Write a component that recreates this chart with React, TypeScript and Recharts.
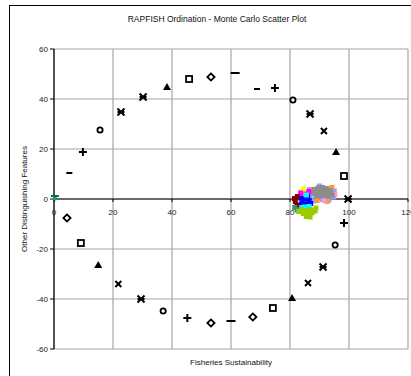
import React from "react";
import {
  CartesianGrid,
  ReferenceDot,
  ReferenceLine,
  Scatter,
  ScatterChart,
  XAxis,
  YAxis,
} from "recharts";

// anchor points (reference fisheries) by marker type
const circles = [
  { x: 15.6, y: 27.6 },
  { x: 81, y: 39.6 },
  { x: 95.3, y: -18.4 },
  { x: 37, y: -44.8 },
];
const diamonds = [
  { x: 53.2, y: 48.8 },
  { x: 4.4, y: -7.6 },
  { x: 67.4, y: -47.2 },
  { x: 53.2, y: -49.6 },
];
const squares = [
  { x: 45.8, y: 48 },
  { x: 98.3, y: 9.2 },
  { x: 74.2, y: -43.6 },
  { x: 9.1, y: -17.6 },
];
const triangles = [
  { x: 38.3, y: 44.8 },
  { x: 95.6, y: 18.8 },
  { x: 80.7, y: -39.6 },
  { x: 15, y: -26.4 },
];
const stars = [
  { x: 22.7, y: 34.8 },
  { x: 30.2, y: 40.8 },
  { x: 86.8, y: 34 },
  { x: 99.7, y: 0 },
  { x: 91.2, y: -27.2 },
  { x: 29.5, y: -40 },
];
const crosses = [
  { x: 91.5, y: 27.2 },
  { x: 86.1, y: -33.6 },
  { x: 21.8, y: -34 },
];
const pluses = [
  { x: 9.8, y: 18.8 },
  { x: 74.9, y: 44.4 },
  { x: 98.3, y: -9.6 },
  { x: 45.2, y: -47.6 },
];
const longDashes = [
  { x: 61.4, y: 50.4 },
  { x: 60, y: -48.8 },
];
const shortDashes = [
  { x: 68.8, y: 44 },
  { x: 5.2, y: 10.4 },
];
const badAnchor = [{ x: 0.3, y: 0.8 }];

// monte carlo cloud, one array per colour
const mcGrey = [
  { x: 88.2, y: 3.8 }, { x: 89.5, y: 4.4 }, { x: 91, y: 4.6 }, { x: 92.4, y: 4.2 },
  { x: 93.6, y: 3.4 }, { x: 88, y: 2.4 }, { x: 89.4, y: 2.8 }, { x: 90.9, y: 2.8 },
  { x: 92.3, y: 2.6 }, { x: 93.8, y: 2.2 }, { x: 88.8, y: 1.2 }, { x: 90.2, y: 1.4 },
  { x: 91.6, y: 1.3 }, { x: 93, y: 1.1 }, { x: 94.3, y: 1.6 },
];
const mcLavender = [
  { x: 87, y: 1.6 }, { x: 94.8, y: 0.8 }, { x: 93.2, y: -0.4 }, { x: 88.2, y: -0.8 },
  { x: 95, y: 3.2 }, { x: 90, y: 5.2 }, { x: 86.6, y: 3.8 }, { x: 91, y: -0.2 },
];
const mcOrange = [
  { x: 89.2, y: -0.6 }, { x: 92.6, y: -1 }, { x: 87.6, y: 3.4 }, { x: 94.2, y: 4.6 },
];
const mcPink = [
  { x: 91.6, y: -0.6 }, { x: 86.2, y: 2.4 }, { x: 95.2, y: 1.8 },
];
const mcBlue = [
  { x: 83.6, y: 0.4 }, { x: 85, y: 0 }, { x: 86.5, y: -0.5 }, { x: 84, y: -1.5 },
  { x: 85.5, y: -2 }, { x: 87, y: -1.8 }, { x: 83.2, y: -2.4 }, { x: 86, y: 1 },
];
const mcDarkRed = [
  { x: 81.8, y: -1 }, { x: 82.3, y: -2.5 }, { x: 81.5, y: 0.2 }, { x: 82.5, y: 1 },
];
const mcCyan = [
  { x: 83.6, y: -3.4 }, { x: 85, y: -3.2 }, { x: 84.2, y: -4 }, { x: 86.5, y: -3 },
  { x: 85.6, y: 1.6 },
];
const mcGreen = [
  { x: 84, y: -4.2 }, { x: 85.5, y: -4.6 }, { x: 87, y: -4.3 }, { x: 88.5, y: -4.8 },
  { x: 84.5, y: -5.8 }, { x: 86, y: -6 }, { x: 87.5, y: -5.5 }, { x: 85.5, y: -7 },
  { x: 86.8, y: -7.2 }, { x: 83, y: -5 }, { x: 88.8, y: -3.6 },
];
const mcMagenta = [
  { x: 83.6, y: 2.4 }, { x: 85.4, y: 2 }, { x: 86.4, y: 3 },
];
const mcYellow = [
  { x: 84, y: 3 }, { x: 84.6, y: 4 },
];
const mcTeal = [
  { x: 81.6, y: -3.4 }, { x: 82.4, y: -4.4 },
];

const xTicks = [0, 20, 40, 60, 80, 100, 120];
const yTicks = [-60, -40, -20, 0, 20, 40, 60];

const INK = "#000";

const Ring = ({ cx, cy }: any) => (
  <circle cx={cx} cy={cy} r={2.6} fill="#fff" stroke={INK} strokeWidth={1.8} />
);
const Diamond = ({ cx, cy }: any) => (
  <path
    d={`M${cx},${cy - 3.6}L${cx + 3.6},${cy}L${cx},${cy + 3.6}L${cx - 3.6},${cy}Z`}
    fill="#fff"
    stroke={INK}
    strokeWidth={1.8}
  />
);
const Box = ({ cx, cy }: any) => (
  <rect x={cx - 3} y={cy - 3} width={6} height={6} fill="#fff" stroke={INK} strokeWidth={1.8} />
);
const Tri = ({ cx, cy }: any) => (
  <path d={`M${cx},${cy - 4}L${cx + 4},${cy + 3}L${cx - 4},${cy + 3}Z`} fill={INK} />
);
const Cross = ({ cx, cy }: any) => (
  <path
    d={`M${cx - 3},${cy - 3}L${cx + 3},${cy + 3}M${cx + 3},${cy - 3}L${cx - 3},${cy + 3}`}
    stroke={INK}
    strokeWidth={2}
  />
);
const Star = ({ cx, cy }: any) => (
  <path
    d={`M${cx - 3.5},${cy - 3.5}L${cx + 3.5},${cy + 3.5}M${cx + 3.5},${cy - 3.5}L${cx - 3.5},${cy + 3.5}M${cx - 3.5},${cy}L${cx + 3.5},${cy}`}
    stroke={INK}
    strokeWidth={2}
  />
);
const Plus = ({ cx, cy }: any) => (
  <path
    d={`M${cx - 4},${cy}L${cx + 4},${cy}M${cx},${cy - 4}L${cx},${cy + 4}`}
    stroke={INK}
    strokeWidth={2}
  />
);
const LongDash = ({ cx, cy }: any) => (
  <rect x={cx - 4.5} y={cy - 1} width={9} height={2} fill={INK} />
);
const ShortDash = ({ cx, cy }: any) => (
  <rect x={cx - 3} y={cy - 1} width={6} height={2} fill={INK} />
);
const TealMark = ({ cx, cy }: any) => (
  <g>
    <circle cx={cx} cy={cy + 1.5} r={2.2} fill="#1a9a7a" />
    <rect x={cx - 4} y={cy - 2} width={8} height={2} fill="#006d5b" />
  </g>
);

const dot = (color: string) => ({ cx, cy }: any) => (
  <rect x={cx - 2.5} y={cy - 2.5} width={5} height={5} fill={color} />
);

const XTickLabel = (value: number) => ({ cx, cy }: any) => (
  <g>
    <line x1={cx} y1={cy} x2={cx} y2={cy + 3} stroke={INK} />
    <text
      x={cx}
      y={cy + 16}
      textAnchor="middle"
      fontSize={8}
      fill="#222"
      fontFamily="Arial, 'Liberation Sans', sans-serif"
    >
      {value}
    </text>
  </g>
);

const cloud: Array<[any[], string]> = [
  [mcLavender, "#9999ff"],
  [mcOrange, "#ff9933"],
  [mcPink, "#ff99cc"],
  [mcGrey, "#8c8c8c"],
  [mcYellow, "#ffff00"],
  [mcMagenta, "#ff00ff"],
  [mcBlue, "#0000ff"],
  [mcCyan, "#00ffff"],
  [mcDarkRed, "#800000"],
  [mcTeal, "#339966"],
  [mcGreen, "#99cc00"],
];

const label: React.CSSProperties = {
  position: "absolute",
  fontSize: 8,
  color: "#111",
  whiteSpace: "nowrap",
};

export default function App() {
  return (
    <div
      style={{
        position: "absolute",
        left: 0,
        top: 0,
        width: 411,
        height: 376,
        overflow: "hidden",
        background: "#fff",
        fontFamily: "Arial, 'Liberation Sans', sans-serif",
      }}
    >
      <div
        style={{
          position: "absolute",
          left: 9,
          top: 5,
          width: 440,
          height: 420,
          border: "1.5px solid #000",
        }}
      />
      <ScatterChart
        width={411}
        height={376}
        margin={{ top: 49, right: 3, bottom: 27, left: 0 }}
        style={{ position: "absolute", left: 0, top: 0 }}
      >
        <CartesianGrid stroke="#a6a6a6" strokeWidth={1.2} />
        <XAxis
          type="number"
          dataKey="x"
          domain={[0, 120]}
          ticks={xTicks}
          hide
        />
        <YAxis
          type="number"
          dataKey="y"
          domain={[-60, 60]}
          ticks={yTicks}
          width={54}
          axisLine={{ stroke: INK, strokeWidth: 1.2 }}
          tickLine={{ stroke: INK }}
          tickSize={4}
          tickMargin={2}
          tick={{ fontSize: 8, fill: "#222" }}
          interval={0}
        />
        <ReferenceLine y={0} stroke={INK} strokeWidth={1.2} />
        {xTicks.map((t) => (
          <ReferenceDot key={t} x={t} y={0} r={0} shape={XTickLabel(t)} />
        ))}
        {cloud.map(([data, color], i) => (
          <Scatter key={i} data={data} shape={dot(color)} isAnimationActive={false} />
        ))}
        <Scatter data={circles} shape={Ring} isAnimationActive={false} />
        <Scatter data={diamonds} shape={Diamond} isAnimationActive={false} />
        <Scatter data={squares} shape={Box} isAnimationActive={false} />
        <Scatter data={triangles} shape={Tri} isAnimationActive={false} />
        <Scatter data={stars} shape={Star} isAnimationActive={false} />
        <Scatter data={crosses} shape={Cross} isAnimationActive={false} />
        <Scatter data={pluses} shape={Plus} isAnimationActive={false} />
        <Scatter data={longDashes} shape={LongDash} isAnimationActive={false} />
        <Scatter data={shortDashes} shape={ShortDash} isAnimationActive={false} />
        <Scatter data={badAnchor} shape={TealMark} isAnimationActive={false} />
      </ScatterChart>
      <div style={{ ...label, left: 217, top: 14, transform: "translateX(-50%)", fontSize: 8.5 }}>
        RAPFISH Ordination - Monte Carlo Scatter Plot
      </div>
      <div style={{ ...label, left: 231, top: 358, transform: "translateX(-50%)" }}>
        Fisheries Sustainability
      </div>
      <div
        style={{
          ...label,
          left: 24,
          top: 199,
          transform: "translate(-50%, -50%) rotate(-90deg)",
        }}
      >
        Other Distinguishing Features
      </div>
    </div>
  );
}
